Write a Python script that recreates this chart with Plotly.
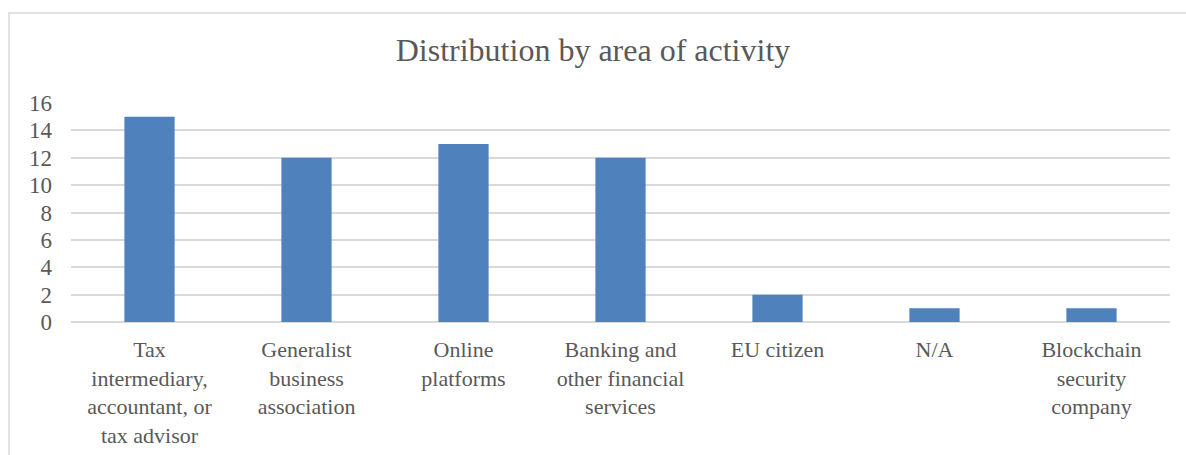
import plotly.graph_objects as go

categories = [
    "Tax<br>intermediary,<br>accountant, or<br>tax advisor",
    "Generalist<br>business<br>association",
    "Online<br>platforms",
    "Banking and<br>other financial<br>services",
    "EU citizen",
    "N/A",
    "Blockchain<br>security<br>company",
]
values = [15, 12, 13, 12, 2, 1, 1]
y_ticks = [0, 2, 4, 6, 8, 10, 12, 14, 16]

FONT = "Liberation Serif"
TXT = "#595959"
GRID = "#D9D9D9"

fig = go.Figure(
    go.Bar(
        x=categories,
        y=values,
        marker=dict(color="#4F81BD", line=dict(width=0)),
    )
)

W, H = 1186, 455
L, R, T, B = 71, 16, 103, 133
pw, ph = W - L - R, H - T - B

fig.update_layout(
    width=W,
    height=H,
    margin=dict(l=L, r=R, t=T, b=B),
    paper_bgcolor="white",
    plot_bgcolor="white",
    bargap=0.68,
    showlegend=False,
    font=dict(family=FONT, color=TXT, size=22),
    title=dict(
        text="Distribution by area of activity",
        x=0.5,
        xanchor="center",
        y=1 - 50 / H,
        yanchor="middle",
        font=dict(family=FONT, size=32, color=TXT),
    ),
    xaxis=dict(
        showgrid=False,
        showline=False,
        ticks="",
        automargin=False,
        tickfont=dict(family=FONT, size=22, color=TXT),
        ticklabelstandoff=12,
        fixedrange=True,
    ),
    yaxis=dict(
        range=[0, 16],
        tickvals=y_ticks,
        showgrid=True,
        gridcolor=GRID,
        gridwidth=1.5,
        zeroline=True,
        zerolinecolor=GRID,
        zerolinewidth=1.5,
        showline=False,
        ticks="",
        automargin=False,
        tickfont=dict(family=FONT, size=23, color=TXT),
        ticklabelstandoff=18,
        fixedrange=True,
    ),
    shapes=[
        dict(
            type="rect",
            xref="paper",
            yref="paper",
            x0=(9 - L) / pw,
            x1=(W + 20 - L) / pw,
            y0=-(H + 20 - (T + ph)) / ph,
            y1=1 + (T - 13) / ph,
            line=dict(color=GRID, width=1.5),
            fillcolor="rgba(0,0,0,0)",
            layer="below",
        )
    ],
)

fig.write_html("out.html")
